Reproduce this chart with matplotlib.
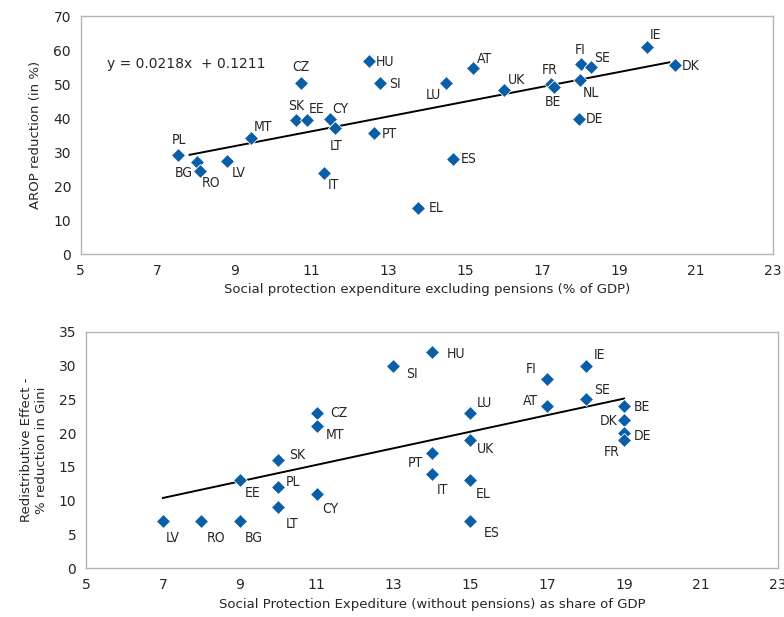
import numpy as np
import matplotlib
matplotlib.use("Agg")
import matplotlib.pyplot as plt

# top panel: AROP reduction vs social protection expenditure excl. pensions
top_countries = ["PL", "BG", "RO", "LV", "MT", "SK", "EE", "CY", "LT", "CZ", "IT",
                 "HU", "SI", "PT", "EL", "LU", "AT", "UK", "FR", "BE", "FI", "SE",
                 "NL", "DE", "IE", "DK", "ES"]
top_x = [7.53, 8.03, 8.10, 8.80, 9.42, 10.60, 10.89, 11.47, 11.61, 10.72, 11.33,
         12.51, 12.79, 12.63, 13.77, 14.49, 15.20, 16.01, 17.23, 17.31, 18.02, 18.27,
         17.99, 17.97, 19.72, 20.45, 14.67]
top_y = [29.0, 27.0, 24.4, 27.4, 34.0, 39.4, 39.4, 39.6, 37.2, 50.4, 23.7,
         56.9, 50.4, 35.7, 13.4, 50.4, 54.6, 48.2, 50.0, 49.2, 55.8, 54.9,
         51.2, 39.6, 60.8, 55.5, 27.9]
top_slope, top_intercept = 2.18, 12.11
top_trend_x = [7.83, 20.31]

# bottom panel: redistributive effect vs social protection expenditure
bot_countries = ["LV", "RO", "BG", "EE", "SK", "PL", "LT", "CZ", "MT", "CY", "SI",
                 "HU", "PT", "IT", "LU", "UK", "EL", "ES", "FI", "AT", "IE", "SE",
                 "BE", "DK", "DE", "FR"]
bot_x = [7, 8, 9, 9, 10, 10, 10, 11, 11, 11, 13,
         14, 14, 14, 15, 15, 15, 15, 17, 17, 18, 18,
         19, 19, 19, 19]
bot_y = [7, 7, 7, 13, 16, 12, 9, 23, 21, 11, 30,
         32, 17, 14, 23, 19, 13, 7, 28, 24, 30, 25,
         24, 22, 20, 19]
bot_slope, bot_intercept = 1.225, 1.83
bot_trend_x = [7, 19]

# label offsets in pixels (dx right, dy down)
top_off = {"PL": (1, -15), "BG": (-13, 11), "RO": (11, 12), "LV": (12, 12),
           "MT": (12, -11), "SK": (0, -14), "EE": (9, -11), "CY": (11, -10),
           "LT": (1, 18), "CZ": (0, -16), "IT": (9, 12), "HU": (16, 1),
           "SI": (15, 1), "PT": (15, 1), "EL": (18, 0), "LU": (-12, 12),
           "AT": (12, -9), "UK": (12, -10), "FR": (-1, -14), "BE": (-1, 15),
           "FI": (-1, -14), "SE": (11, -9), "NL": (11, 13), "DE": (15, 0),
           "IE": (9, -12), "DK": (16, 1), "ES": (16, 0)}
bot_off = {"LV": (10, 17), "RO": (15, 17), "BG": (14, 17), "EE": (13, 13),
           "SK": (19, -5), "PL": (15, -5), "LT": (14, 17), "CZ": (22, 0),
           "MT": (18, 9), "CY": (14, 15), "SI": (19, 8), "HU": (24, 2),
           "PT": (-16, 10), "IT": (11, 16), "LU": (14, -10), "UK": (15, 9),
           "EL": (13, 14), "ES": (21, 12), "FI": (-16, -10), "AT": (-17, -5),
           "IE": (14, -11), "SE": (16, -9), "BE": (18, 1), "DK": (-15, 1),
           "DE": (18, 3), "FR": (-12, 12)}

BLUE = "#0a5ea8"
GREY = "#b4b4b4"
TXT = "#262626"

fig = plt.figure(figsize=(7.84, 6.17), dpi=100)
ax1 = fig.add_axes([0.103, 0.5883, 0.8827, 0.3857])
ax2 = fig.add_axes([0.1097, 0.0789, 0.8823, 0.3835])


def style(ax, ymax, ystep):
    ax.set_xlim(5, 23)
    ax.set_ylim(0, ymax)
    ax.set_xticks(range(5, 24, 2))
    ax.set_yticks(range(0, ymax + 1, ystep))
    for s in ax.spines.values():
        s.set_color(GREY)
        s.set_linewidth(1.0)
    ax.tick_params(length=0, labelsize=10, colors=TXT, pad=7)


def points(ax, names, xs, ys, offs):
    ax.plot(xs, ys, linestyle="none", marker="D", ms=7.5, color=BLUE,
            markeredgecolor="white", markeredgewidth=0.6, zorder=3)
    for n, x, y in zip(names, xs, ys):
        dx, dy = offs[n]
        ax.annotate(n, (x, y), xytext=(dx * 0.72, -dy * 0.72),
                    textcoords="offset points", ha="center", va="center",
                    fontsize=10, family="DejaVu Sans", fontstretch="condensed",
                    color=TXT, zorder=4)


style(ax1, 70, 10)
tx = np.array(top_trend_x)
ax1.plot(tx, top_slope * tx + top_intercept, color="black", lw=1.4, zorder=2)
points(ax1, top_countries, top_x, top_y, top_off)
ax1.text(5.68, 55.9, "y = 0.0218x  + 0.1211", fontsize=10, color=TXT,
         ha="left", va="center")
ax1.set_xlabel("Social protection expenditure excluding pensions (% of GDP)",
               fontsize=9.5, color=TXT, labelpad=4)
ax1.set_ylabel("AROP reduction (in %)", fontsize=9.5, color=TXT, labelpad=8)

style(ax2, 35, 5)
bx = np.array(bot_trend_x)
ax2.plot(bx, bot_slope * bx + bot_intercept, color="black", lw=1.4, zorder=2)
points(ax2, bot_countries, bot_x, bot_y, bot_off)
ax2.set_xlabel("Social Protection Expediture (without pensions) as share of GDP",
               fontsize=9.5, color=TXT, labelpad=4)
ax2.set_ylabel("Redistributive Effect -\n% reduction in Gini", fontsize=9.5,
               color=TXT, labelpad=8)

fig.savefig("out.png", dpi=100)
